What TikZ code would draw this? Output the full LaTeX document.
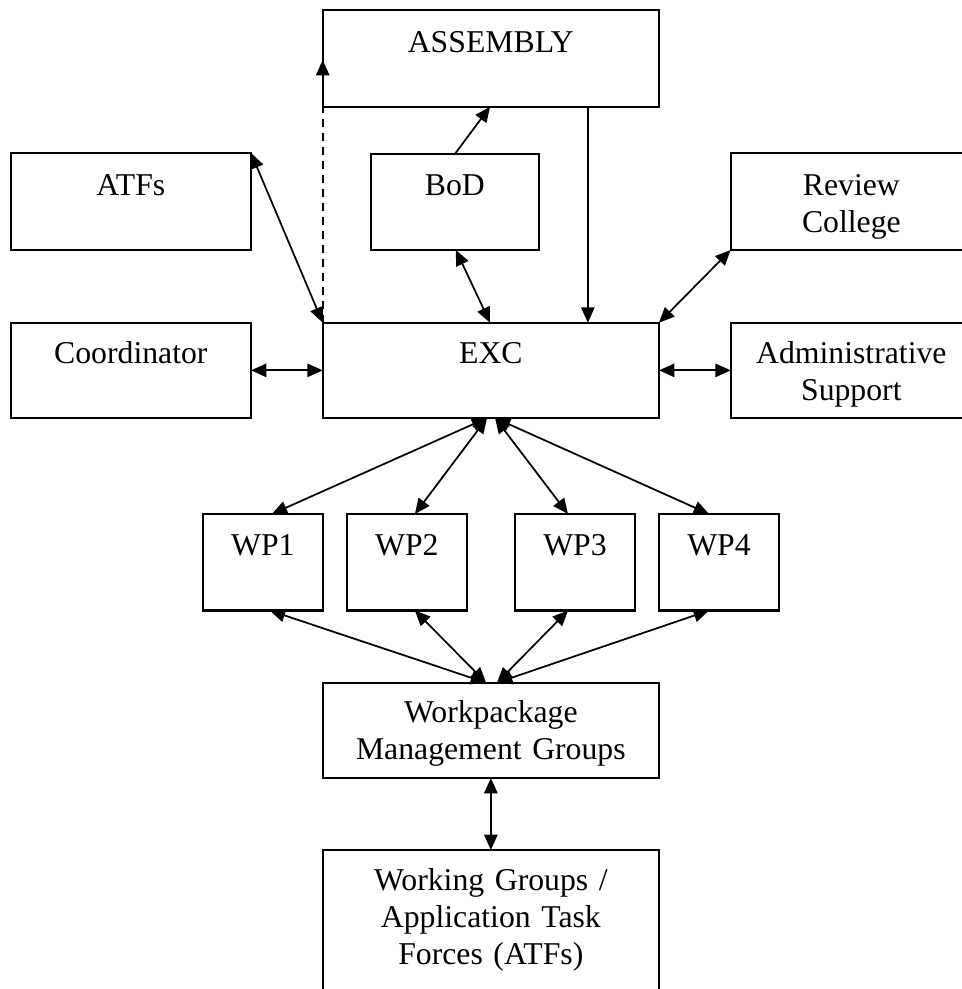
\documentclass[tikz,border=0pt]{standalone}
\usepackage{fontspec}
\setmainfont{Liberation Serif}
\usetikzlibrary{arrows.meta,fit,calc}
\tikzset{
  box/.style={draw, line width=1.6pt, inner sep=0pt, outer sep=0pt},
  lbl/.style={font=\fontsize{23.8pt}{27.75pt}\selectfont, text width=240pt, align=center, inner sep=0pt, anchor=base},
  conn/.style={line width=1.3pt, >={Triangle[length=11.5pt,width=10pt]}},
  dashconn/.style={conn, dash pattern=on 6pt off 4.5pt},
}
\begin{document}
\begin{tikzpicture}[x=0.75pt,y=-0.75pt]
\clip (0,0) rectangle (962,989);
\useasboundingbox (0,0) rectangle (962,989);
% boxes
\node[box, fit={(322.7,10) (659,106.7)}] (asm) {};
\node[box, fit={(10.7,153) (251,250)}] (atf) {};
\node[box, fit={(370.7,154) (539,250)}] (bod) {};
\node[box, fit={(730.7,153) (972,250)}] (rev) {};
\node[box, fit={(10.7,322.7) (251,418)}] (crd) {};
\node[box, fit={(322.7,322.7) (659,418)}] (exc) {};
\node[box, fit={(730.7,322.7) (972,418)}] (adm) {};
\node[box, fit={(202.7,514) (323,610.5)}] (wp1) {};
\node[box, fit={(346.7,514) (467,610.5)}] (wp2) {};
\node[box, fit={(515,514) (635,610.5)}] (wp3) {};
\node[box, fit={(659,514) (779,610.5)}] (wp4) {};
\node[box, fit={(322.7,682.7) (659,778)}] (wmg) {};
\node[box, fit={(322.7,850) (659,1000)}] (wg) {};
% labels
\node[lbl] (asmT) at ($(asm.north)+(0,42)$) {ASSEMBLY};
\node[lbl] (atfT) at ($(atf.north)+(0,42)$) {ATFs};
\node[lbl] (bodT) at ($(bod.north)+(0,41)$) {BoD};
\node[lbl] (revT) at ($(rev.north)+(0,42)$) {Review\\College};
\node[lbl] (crdT) at ($(crd.north)+(0,40.5)$) {Coordinator};
\node[lbl] (excT) at ($(exc.north)+(0,40.5)$) {EXC};
\node[lbl] (admT) at ($(adm.north)+(0,40.5)$) {Administrative\\Support};
\node[lbl] (wp1T) at ($(wp1.north)+(0,41)$) {WP1};
\node[lbl] (wp2T) at ($(wp2.north)+(0,41)$) {WP2};
\node[lbl] (wp3T) at ($(wp3.north)+(0,41)$) {WP3};
\node[lbl] (wp4T) at ($(wp4.north)+(0,41)$) {WP4};
\node[lbl] (wmgT) at ($(wmg.north)+(0,39.5)$) {Workpackage\\Management Groups};
\node[lbl] (wgT) at ($(wg.north)+(0,40)$) {Working Groups /\\Application Task\\Forces (ATFs)};
% connectors
\coordinate (asmL) at ($(asm.north west)+(0,50)$);
\draw[dashconn,->] (exc.north west) -- (asmL);
\draw[conn,->] ($(bod.north)+(0,0)$) -- ($(asm.south)+(-0.8,0)$);
\draw[conn,->] ($(asm.south)+(97,0)$) -- ($(exc.north)+(97,0)$);
\draw[conn,<->] ($(bod.south)+(1,0)$) -- ($(exc.north)+(-0.8,0)$);
\draw[conn,<->] (atf.north east) -- (exc.north west);
\draw[conn,<->] (rev.south west) -- (exc.north east);
\draw[conn,<->] ($(crd.east)+(0,0)$) -- ($(exc.west)+(0,0)$);
\draw[conn,<->] (exc.east) -- (adm.west);
\draw[conn,<->] ($(exc.south)+(-3.8,0)$) -- ($(wp1.north)+(9,0)$);
\draw[conn,<->] ($(exc.south)+(-3.8,0)$) -- ($(wp2.north)+(8,0)$);
\draw[conn,<->] ($(exc.south)+(4.2,0)$) -- ($(wp3.north)+(-7,0)$);
\draw[conn,<->] ($(exc.south)+(4.2,0)$) -- ($(wp4.north)+(-10,0)$);
\draw[conn,<->] ($(wp1.south)+(7,0)$) -- ($(wmg.north)+(-4.8,0)$);
\draw[conn,<->] ($(wp2.south)+(8,0)$) -- ($(wmg.north)+(-4.8,0)$);
\draw[conn,<->] ($(wp3.south)+(-7,0)$) -- ($(wmg.north)+(6.2,0)$);
\draw[conn,<->] ($(wp4.south)+(-10,0)$) -- ($(wmg.north)+(6.2,0)$);
\draw[conn,<->] (wmg.south) -- (wg.north);
\end{tikzpicture}
\end{document}
